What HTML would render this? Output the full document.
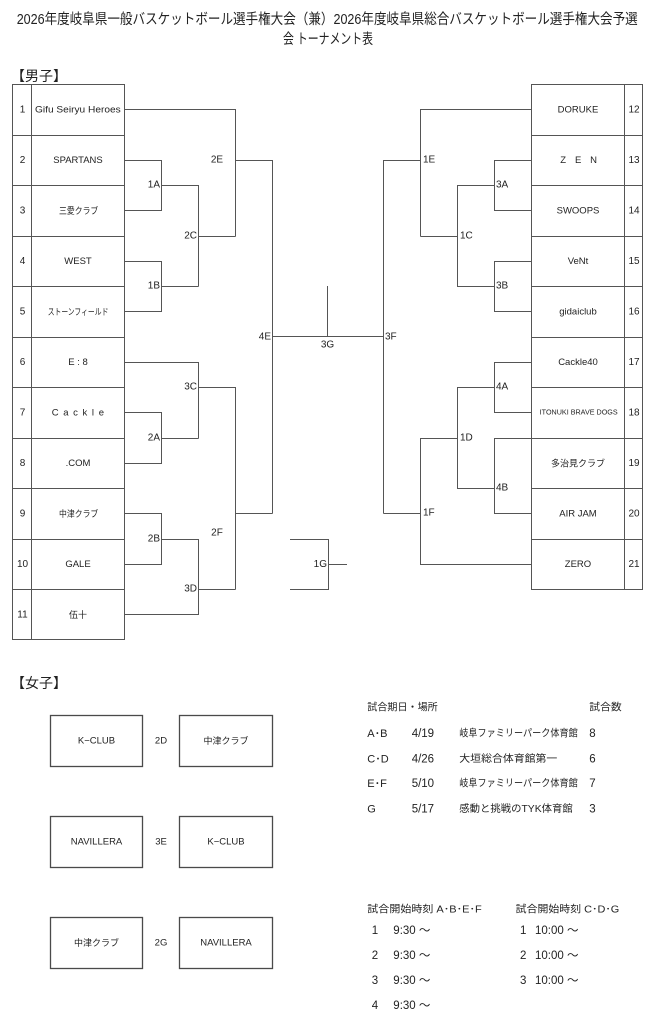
<!DOCTYPE html>
<html><head><meta charset="utf-8"><style>
html,body{margin:0;padding:0;background:#fff;}
svg{display:block;}
</style></head><body>
<svg width="664" height="1024" viewBox="0 0 664 1024" xmlns="http://www.w3.org/2000/svg" font-family="'Liberation Sans','Noto Sans CJK JP',sans-serif" fill="#222">
<!-- Title -->
<text x="16.7" y="20" font-size="14.5" dominant-baseline="central" textLength="621" lengthAdjust="spacingAndGlyphs">2026年度岐阜県一般バスケットボール選手権大会（兼）2026年度岐阜県総合バスケットボール選手権大会予選</text>
<text x="283" y="40" font-size="14.5" dominant-baseline="central" textLength="90" lengthAdjust="spacingAndGlyphs">会 トーナメント表</text>
<text x="11" y="76" font-size="14" dominant-baseline="central">【男子】</text>
<text x="11" y="683" font-size="14" dominant-baseline="central">【女子】</text>

<g stroke="#555" stroke-width="1" fill="none">
<!-- left table -->
<rect x="12.5" y="84.5" width="112" height="555"/>
<path d="M31.5 84.5V639.5"/>
<path d="M12.5 135.5H124.5M12.5 185.5H124.5M12.5 236.5H124.5M12.5 286.5H124.5M12.5 337.5H124.5M12.5 387.5H124.5M12.5 438.5H124.5M12.5 488.5H124.5M12.5 539.5H124.5M12.5 589.5H124.5"/>
<!-- right table -->
<rect x="531.5" y="84.5" width="111" height="505"/>
<path d="M624.5 84.5V589.5"/>
<path d="M531.5 135.5H642.5M531.5 185.5H642.5M531.5 236.5H642.5M531.5 286.5H642.5M531.5 337.5H642.5M531.5 387.5H642.5M531.5 438.5H642.5M531.5 488.5H642.5M531.5 539.5H642.5"/>
<!-- left connectors -->
<path d="M124.5 109.5H235.5V236.5"/>
<path d="M235.5 160.5H272.5V513.5"/>
<path d="M124.5 160.5H161.5V210.5H124.5"/>
<path d="M161.5 185.5H198.5V286.5"/>
<path d="M124.5 261.5H161.5V311.5H124.5"/>
<path d="M161.5 286.5H198.5"/>
<path d="M198.5 236.5H235.5"/>
<path d="M272.5 336.5H383.5"/>
<path d="M327.5 286V336.5"/>
<path d="M124.5 362.5H198.5V438.5"/>
<path d="M124.5 412.5H161.5V463.5H124.5"/>
<path d="M161.5 438.5H198.5"/>
<path d="M198.5 387.5H235.5V589.5"/>
<path d="M198.5 589.5H235.5"/>
<path d="M235.5 513.5H272.5"/>
<path d="M124.5 513.5H161.5V564.5H124.5"/>
<path d="M161.5 539.5H198.5V614.5H124.5"/>
<path d="M290 539.5H328.5V589.5H290"/>
<path d="M328.5 564.5H347"/>
<!-- right connectors -->
<path d="M531.5 109.5H420.5V236.5"/>
<path d="M420.5 160.5H383.5V513.5"/>
<path d="M531.5 160.5H494.5V210.5H531.5"/>
<path d="M494.5 185.5H457.5V286.5H494.5"/>
<path d="M531.5 261.5H494.5V311.5H531.5"/>
<path d="M457.5 236.5H420.5"/>
<path d="M531.5 362.5H494.5V412.5H531.5"/>
<path d="M494.5 387.5H457.5V488.5H494.5"/>
<path d="M531.5 438.5H494.5V513.5H531.5"/>
<path d="M457.5 438.5H420.5V564.5H531.5"/>
<path d="M420.5 513.5H383.5"/>
<!-- women boxes -->
<g stroke-width="1.3" stroke="#4a4a4a">
<rect x="50.5" y="715.5" width="92" height="51"/>
<rect x="179.5" y="715.5" width="93" height="51"/>
<rect x="50.5" y="816.5" width="92" height="51"/>
<rect x="179.5" y="816.5" width="93" height="51"/>
<rect x="50.5" y="917.5" width="92" height="51"/>
<rect x="179.5" y="917.5" width="93" height="51"/>
</g>
</g>

<!-- numbers -->
<g font-size="10" text-anchor="middle" dominant-baseline="central">
<text x="22.5" y="110">1</text>
<text x="22.5" y="160.5">2</text>
<text x="22.5" y="211">3</text>
<text x="22.5" y="261.5">4</text>
<text x="22.5" y="312">5</text>
<text x="22.5" y="362.5">6</text>
<text x="22.5" y="413">7</text>
<text x="22.5" y="463.5">8</text>
<text x="22.5" y="514">9</text>
<text x="22.5" y="564.5">10</text>
<text x="22.5" y="615">11</text>
<text x="634" y="110">12</text>
<text x="634" y="160.5">13</text>
<text x="634" y="211">14</text>
<text x="634" y="261.5">15</text>
<text x="634" y="312">16</text>
<text x="634" y="362.5">17</text>
<text x="634" y="413">18</text>
<text x="634" y="463.5">19</text>
<text x="634" y="514">20</text>
<text x="634" y="564.5">21</text>
</g>

<!-- left teams -->
<g font-size="9.5" dominant-baseline="central">
<text x="35" y="110" textLength="85.7" lengthAdjust="spacingAndGlyphs">Gifu Seiryu Heroes</text>
<text x="53.3" y="160.5" textLength="49.4" lengthAdjust="spacingAndGlyphs">SPARTANS</text>
<text x="59" y="211" font-size="9" textLength="39.3" lengthAdjust="spacingAndGlyphs">三愛クラブ</text>
<text x="78" y="261.5" text-anchor="middle">WEST</text>
<text x="47.7" y="312" font-size="9" textLength="60.7" lengthAdjust="spacingAndGlyphs">ストーンフィールド</text>
<text x="78" y="362.5" text-anchor="middle">E : 8</text>
<text x="51.7" y="413" textLength="52.3" lengthAdjust="spacing">Cackle</text>
<text x="78" y="463.5" text-anchor="middle">.COM</text>
<text x="59" y="514" font-size="9" textLength="39.3" lengthAdjust="spacingAndGlyphs">中津クラブ</text>
<text x="78" y="564.5" text-anchor="middle">GALE</text>
<text x="78" y="615" font-size="9" text-anchor="middle">伍十</text>
</g>

<!-- right teams -->
<g font-size="9.5" dominant-baseline="central">
<text x="578" y="110" text-anchor="middle">DORUKE</text>
<text x="560.3" y="160.5" textLength="36.7" lengthAdjust="spacing">ZEN</text>
<text x="578" y="211" text-anchor="middle">SWOOPS</text>
<text x="578" y="261.5" text-anchor="middle">VeNt</text>
<text x="578" y="312" text-anchor="middle">gidaiclub</text>
<text x="578" y="362.5" text-anchor="middle">Cackle40</text>
<text x="539.7" y="413" font-size="7" textLength="78" lengthAdjust="spacingAndGlyphs">ITONUKI  BRAVE  DOGS</text>
<text x="578" y="463.5" font-size="9" text-anchor="middle">多治見クラブ</text>
<text x="578" y="514" text-anchor="middle">AIR JAM</text>
<text x="578" y="564.5" text-anchor="middle">ZERO</text>
</g>

<!-- match labels -->
<g font-size="10" dominant-baseline="central">
<g text-anchor="end">
<text x="160" y="185">1A</text>
<text x="160" y="286">1B</text>
<text x="160" y="438">2A</text>
<text x="160" y="539">2B</text>
<text x="197" y="236">2C</text>
<text x="197" y="387">3C</text>
<text x="197" y="589">3D</text>
<text x="271" y="337">4E</text>
<text x="327" y="564.5">1G</text>
</g>
<g text-anchor="middle">
<text x="217" y="160">2E</text>
<text x="217" y="533">2F</text>
<text x="327.5" y="345">3G</text>
</g>
<text x="423" y="160">1E</text>
<text x="460" y="236">1C</text>
<text x="496" y="185">3A</text>
<text x="496" y="286">3B</text>
<text x="385" y="337">3F</text>
<text x="496" y="387">4A</text>
<text x="496" y="488">4B</text>
<text x="460" y="438">1D</text>
<text x="423" y="513">1F</text>
</g>

<!-- women -->
<g font-size="9.5" dominant-baseline="central" text-anchor="middle">
<text x="96.5" y="741">K−CLUB</text>
<text x="226" y="741" font-size="9">中津クラブ</text>
<text x="161" y="741">2D</text>
<text x="96.5" y="842">NAVILLERA</text>
<text x="226" y="842">K−CLUB</text>
<text x="161" y="842">3E</text>
<text x="96.5" y="943" font-size="9">中津クラブ</text>
<text x="226" y="943">NAVILLERA</text>
<text x="161" y="943">2G</text>
</g>

<!-- schedule -->
<g font-size="10" dominant-baseline="central">
<text x="367.3" y="708" textLength="70.4" lengthAdjust="spacingAndGlyphs">試合期日・場所</text>
<text x="589.3" y="708" textLength="32.4" lengthAdjust="spacingAndGlyphs">試合数</text>
<g font-size="11">
<text x="367.3" y="734">A･B</text>
<text x="367.3" y="759.5">C･D</text>
<text x="367.3" y="784">E･F</text>
<text x="367.3" y="809.5">G</text>
</g>
<g font-size="11.5">
<text x="411.7" y="734">4/19</text>
<text x="411.7" y="759.5">4/26</text>
<text x="411.7" y="784">5/10</text>
<text x="411.7" y="809.5">5/17</text>
</g>
<text x="459.3" y="734" textLength="118.4" lengthAdjust="spacingAndGlyphs">岐阜ファミリーパーク体育館</text>
<text x="459.3" y="759.5" textLength="98" lengthAdjust="spacingAndGlyphs">大垣総合体育館第一</text>
<text x="459.3" y="784" textLength="118.4" lengthAdjust="spacingAndGlyphs">岐阜ファミリーパーク体育館</text>
<text x="459.3" y="809.5" textLength="113.4" lengthAdjust="spacingAndGlyphs">感動と挑戦のTYK体育館</text>
<g font-size="11.5">
<text x="589.3" y="734">8</text>
<text x="589.3" y="759.5">6</text>
<text x="589.3" y="784">7</text>
<text x="589.3" y="809.5">3</text>
</g>

<text x="367.3" y="910" textLength="114.4" lengthAdjust="spacingAndGlyphs">試合開始時刻 A･B･E･F</text>
<text x="515.7" y="910" textLength="103.6" lengthAdjust="spacingAndGlyphs">試合開始時刻 C･D･G</text>
<g font-size="11.5">
<text x="371.7" y="931">1</text>
<text x="371.7" y="956">2</text>
<text x="371.7" y="981">3</text>
<text x="371.7" y="1006">4</text>
<text x="393.3" y="931">9:30 ～</text>
<text x="393.3" y="956">9:30 ～</text>
<text x="393.3" y="981">9:30 ～</text>
<text x="393.3" y="1006">9:30 ～</text>
<text x="520" y="931">1</text>
<text x="520" y="956">2</text>
<text x="520" y="981">3</text>
<text x="535" y="931">10:00 ～</text>
<text x="535" y="956">10:00 ～</text>
<text x="535" y="981">10:00 ～</text>
</g>
</g>
</svg>
</body></html>
